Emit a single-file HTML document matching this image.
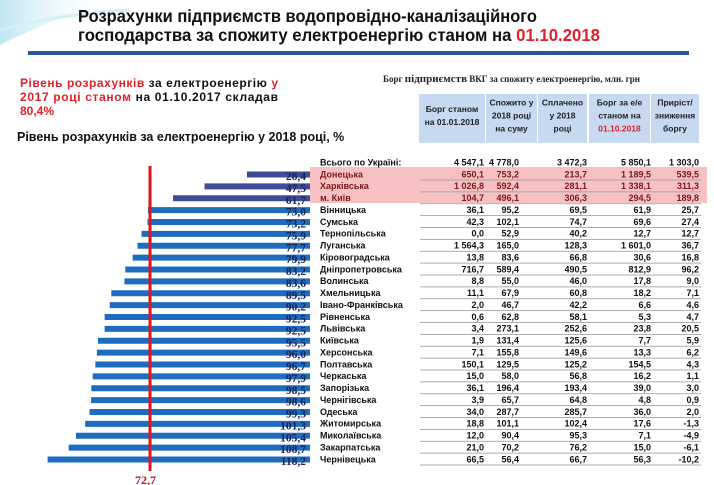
<!DOCTYPE html>
<html><head><meta charset="utf-8">
<style>
html,body{margin:0;padding:0;background:#fff;}
svg{display:block;}
</style></head>
<body>
<svg id="s" width="714" height="485" xmlns="http://www.w3.org/2000/svg" font-family="Liberation Sans, Arial, sans-serif">
<defs>
<linearGradient id="sw" x1="0" y1="0" x2="1" y2="0">
<stop offset="0" stop-color="#bfe6f3"/><stop offset="1" stop-color="#ffffff" stop-opacity="0"/>
</linearGradient>
</defs>
<rect width="714" height="485" fill="#fff"/>
<path d="M0,0 L120,0 C80,10 40,25 0,45 Z" fill="url(#sw)"/>
<path d="M0,30 C40,20 80,12 130,10" stroke="#d6eef6" stroke-width="3" fill="none"/>
<text x="78" y="22" font-size="17.5" font-weight="bold" fill="#111" textLength="459" lengthAdjust="spacingAndGlyphs">Розрахунки підприємств водопровідно-каналізаційного</text>
<text x="78" y="41" font-size="17.5" font-weight="bold" fill="#111" textLength="522" lengthAdjust="spacingAndGlyphs">господарства за спожиту електроенергію станом на <tspan fill="#e0202a">01.10.2018</tspan></text>
<rect x="28" y="51" width="661" height="4" fill="#2a5596"/>
<text x="20" y="87" font-size="12" font-weight="bold" fill="#e0202a" textLength="258">Рівень розрахунків <tspan fill="#111">за електроенергію</tspan> у</text>
<text x="20" y="101" font-size="12" font-weight="bold" fill="#e0202a" textLength="258">2017 році станом <tspan fill="#111">на 01.10.2017 складав</tspan></text>
<text x="20" y="115" font-size="12" font-weight="bold" fill="#e0202a">80,4%</text>
<text x="17" y="141" font-size="12.5" font-weight="bold" fill="#111">Рівень розрахунків за електроенергію у 2018 році, %</text>
<text x="383" y="82" font-size="9" font-weight="bold" fill="#222" font-family="Liberation Serif, serif">Борг <tspan font-size="11">підприємств</tspan> ВКГ за спожиту електроенергію, млн. грн</text>
<g id="hdr"></g>
<rect x="310" y="167" width="397" height="36" fill="#f7c1c3"/>
<g id="rows"></g>
<rect x="148.5" y="166" width="3" height="305" fill="#e0141e"/>
<text x="135" y="484" font-size="12" font-weight="bold" fill="#b01818" font-family="Liberation Serif, serif">72,7</text>
</svg>
<script>
var ns="http://www.w3.org/2000/svg";
function el(p,t,a,txt){var e=document.createElementNS(ns,t);for(var k in a)e.setAttribute(k,a[k]);if(txt!==undefined)e.textContent=txt;p.appendChild(e);return e;}
var hdr=document.getElementById('hdr');
var cols=[[419,485],[486,537],[538,587],[589,650],[651,699]];
var htxt=[["Борг станом","на 01.01.2018"],["Спожито у","2018 році","на суму"],["Сплачено","у 2018","році"],["Борг за е/е","станом на","01.10.2018"],["Приріст/","зниження","боргу"]];
cols.forEach(function(c,i){
 el(hdr,'rect',{x:c[0],y:94,width:c[1]-c[0],height:49,fill:'#c6d9f0'});
 var L=htxt[i];var y0=118.5-(L.length-1)*6.5;
 L.forEach(function(t,j){el(hdr,'text',{x:(c[0]+c[1])/2,y:y0+j*13,'font-size':'8.5','font-weight':'bold','text-anchor':'middle',fill:(i==3&&j==2)?'#e0202a':'#222'},t);});
});
var data=[
["Всього по Україні:",null,"4 547,1","4 778,0","3 472,3","5 850,1","1 303,0"],
["Донецька",28.4,"650,1","753,2","213,7","1 189,5","539,5"],
["Харківська",47.5,"1 026,8","592,4","281,1","1 338,1","311,3"],
["м. Київ",61.7,"104,7","496,1","306,3","294,5","189,8"],
["Вінницька",73.0,"36,1","95,2","69,5","61,9","25,7"],
["Сумська",73.2,"42,3","102,1","74,7","69,6","27,4"],
["Тернопільська",75.9,"0,0","52,9","40,2","12,7","12,7"],
["Луганська",77.7,"1 564,3","165,0","128,3","1 601,0","36,7"],
["Кіровоградська",79.9,"13,8","83,6","66,8","30,6","16,8"],
["Дніпропетровська",83.2,"716,7","589,4","490,5","812,9","96,2"],
["Волинська",83.6,"8,8","55,0","46,0","17,8","9,0"],
["Хмельницька",89.5,"11,1","67,9","60,8","18,2","7,1"],
["Івано-Франківська",90.2,"2,0","46,7","42,2","6,6","4,6"],
["Рівненська",92.5,"0,6","62,8","58,1","5,3","4,7"],
["Львівська",92.5,"3,4","273,1","252,6","23,8","20,5"],
["Київська",95.5,"1,9","131,4","125,6","7,7","5,9"],
["Херсонська",96.0,"7,1","155,8","149,6","13,3","6,2"],
["Полтавська",96.7,"150,1","129,5","125,2","154,5","4,3"],
["Черкаська",97.9,"15,0","58,0","56,8","16,2","1,1"],
["Запорізька",98.5,"36,1","196,4","193,4","39,0","3,0"],
["Чернігівська",98.6,"3,9","65,7","64,8","4,8","0,9"],
["Одеська",99.3,"34,0","287,7","285,7","36,0","2,0"],
["Житомирська",101.3,"18,8","101,1","102,4","17,6","-1,3"],
["Миколаївська",105.4,"12,0","90,4","95,3","7,1","-4,9"],
["Закарпатська",108.7,"21,0","70,2","76,2","15,0","-6,1"],
["Чернівецька",118.2,"66,5","56,4","66,7","56,3","-10,2"]];
var g=document.getElementById('rows');
var right=[484,519,587,651,699];
data.forEach(function(r,i){
 var yc=i==0?162:174+(i-1)*11.875;
 var pink=i>=1&&i<=3;
 if(r[1]!==null){
  var w=r[1]*2.22;
  el(g,'rect',{x:310-w,y:yc-2.5,width:w,height:6,fill:pink?'#3f4a98':'#1e6cc0'});
  el(g,'text',{x:306,y:yc+6,'font-size':'11.5','font-weight':'bold','text-anchor':'end',fill:'#1c2550','font-family':'Liberation Serif, serif'},r[1].toFixed(1).replace('.',','));
 }
 el(g,'text',{x:320,y:yc+3.3,'font-size':'9','font-weight':'bold',fill:pink?'#7a1a1a':'#111'},r[0]);
 for(var k=0;k<5;k++)el(g,'text',{x:right[k],y:yc+3.3,'font-size':'9','font-weight':'bold','text-anchor':'end',fill:pink?'#7a1a1a':'#111'},r[k+2]);
 if(i>=1)el(g,'rect',{x:420,y:yc+5.6,width:281,height:0.8,fill:'#999'});
});
</script>
</body></html>
